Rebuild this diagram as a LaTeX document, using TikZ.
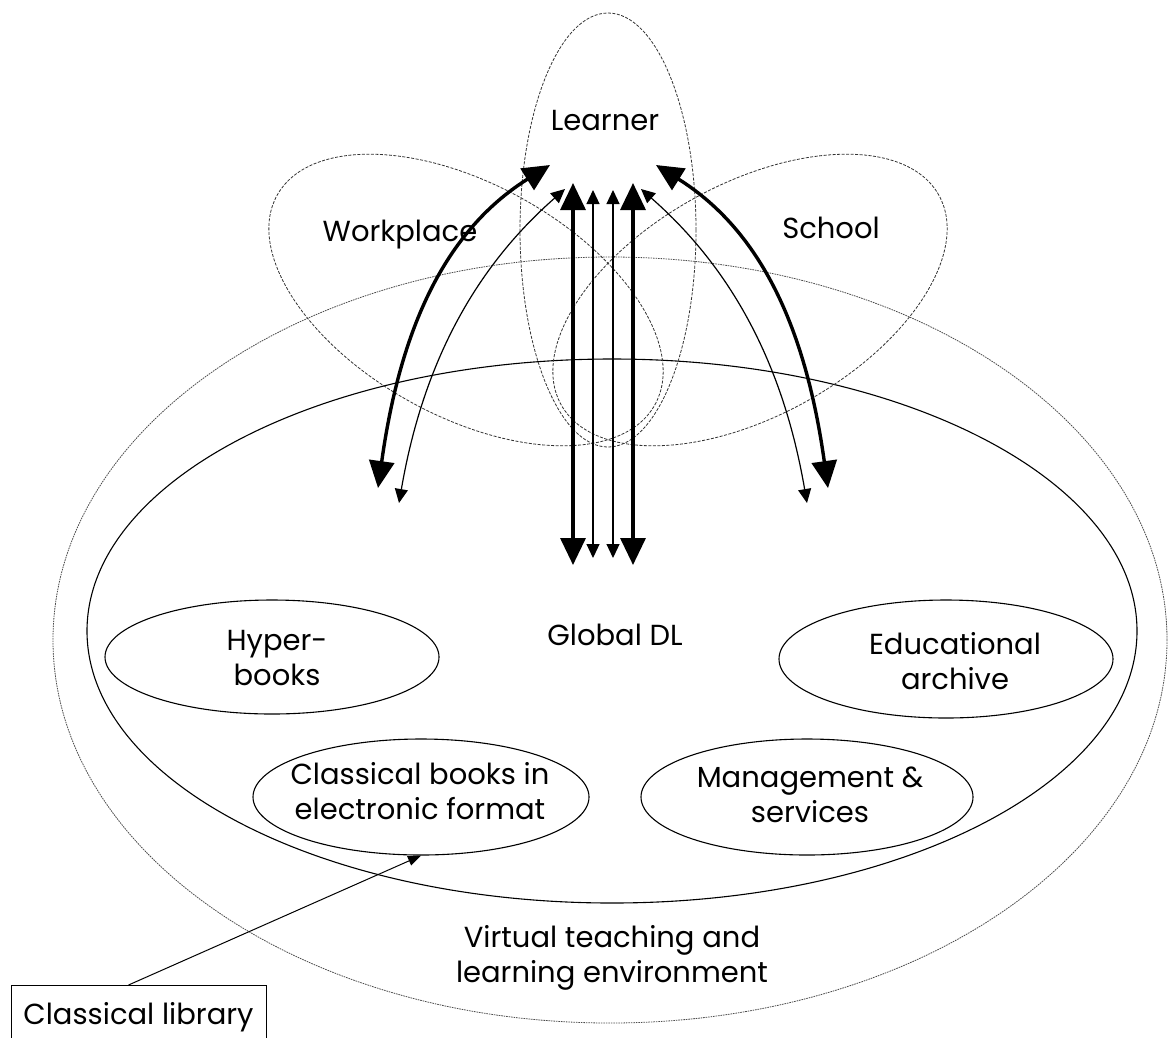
\documentclass[tikz,border=0pt]{standalone}
\usepackage{fontspec}
\setmainfont{Poppins}
\usetikzlibrary{shapes.geometric,arrows.meta}
\tikzset{
  region/.style={ellipse, draw, inner sep=0pt},
  fine dash/.style={draw=black!80, line width=0.8pt, dash pattern=on 3pt off 1.5pt},
  finer dash/.style={draw=black!70, line width=0.8pt, dash pattern=on 1.6pt off 0.9pt},
  solid ell/.style={line width=1.1pt},
  txt/.style={inner sep=0pt, align=center},
  bigarrow/.style={line width=3.4pt, {Triangle[length=27pt,width=25pt]}-{Triangle[length=27pt,width=25pt]}},
  smallarrow/.style={line width=1.2pt, {Triangle[length=14pt,width=13pt]}-{Triangle[length=14pt,width=13pt]}},
  libarrow/.style={line width=1pt, -{Triangle[length=13pt,width=10pt]}}
}
\begin{document}
\begin{tikzpicture}[x=1pt, y=-1pt, font=\fontsize{29}{35}\selectfont]
\useasboundingbox (0,0) rectangle (1169,1037);
\clip (0,0) rectangle (1169,1037);
% regions
\node[region, finer dash, minimum width=1114, minimum height=766] (venv) at (610,640) {};
\node[region, solid ell, minimum width=1050, minimum height=544] (gdl) at (612,631) {};
\node[region, fine dash, minimum width=176, minimum height=434] (learner) at (608,230) {};
\node[region, fine dash, minimum width=432, minimum height=232, rotate=-29] (work) at (466,300) {};
\node[region, fine dash, minimum width=432, minimum height=232, rotate=29] (school) at (750,300) {};
% inner collections
\node[region, solid ell, minimum width=334, minimum height=114] (hyper) at (272,657) {};
\node[region, solid ell, minimum width=334, minimum height=118] (edu) at (946,659) {};
\node[region, solid ell, minimum width=336, minimum height=116] (cbooks) at (421,797) {};
\node[region, solid ell, minimum width=332, minimum height=116] (mgmt) at (807,797) {};
% texts
\node[txt, anchor=base] (tlearner) at (605,130) {Learner};
\node[txt, anchor=base] (twork) at (400,241) {Workplace};
\node[txt, anchor=base] (tschool) at (831,238) {School};
\node[txt, anchor=base] (tgdl) at (615,645) {Global DL};
\node[txt] (thyper) at (277,658.5) {Hyper-\\books};
\node[txt] (tedu) at (955,661.5) {Educational\\archive};
\node[txt] (tcbooks) at (420,791.5) {Classical books in\\electronic format};
\node[txt] (tmgmt) at (810,794.5) {Management \&\\services};
\node[txt] (tvenv) at (612,957.5) {Virtual teaching and\\learning environment};
% classical library
\node[draw, line width=1pt, minimum width=255, minimum height=54, anchor=north, inner sep=0pt, text height=23pt, text depth=0pt] (lib) at (138.5,985) {Classical library};
\draw[libarrow] ([xshift=-10pt]lib.north) -- (cbooks.south);
% arrow end points
\coordinate (wl0) at (378,488); \coordinate (wl1) at (550,165);
\coordinate (wt0) at (399,503); \coordinate (wt1) at (565,189);
\coordinate (sl0) at (828,488); \coordinate (sl1) at (656,165);
\coordinate (st0) at (807,503); \coordinate (st1) at (641,189);
\coordinate (v1a) at (573,565); \coordinate (v1b) at (573,183);
\coordinate (v2a) at (593,558); \coordinate (v2b) at (593,190);
\coordinate (v3a) at (613,558); \coordinate (v3b) at (613,190);
\coordinate (v4a) at (633,565); \coordinate (v4b) at (633,183);
% arrows
\draw[bigarrow] (wl0) .. controls (399,338) and (440,234) .. (wl1);
\draw[smallarrow] (wt0) .. controls (423,363) and (475,268) .. (wt1);
\draw[bigarrow] (sl0) .. controls (807,338) and (766,234) .. (sl1);
\draw[smallarrow] (st0) .. controls (783,363) and (731,268) .. (st1);
\draw[bigarrow] (v1a) -- (v1b);
\draw[smallarrow] (v2a) -- (v2b);
\draw[smallarrow] (v3a) -- (v3b);
\draw[bigarrow] (v4a) -- (v4b);
\end{tikzpicture}
\end{document}
